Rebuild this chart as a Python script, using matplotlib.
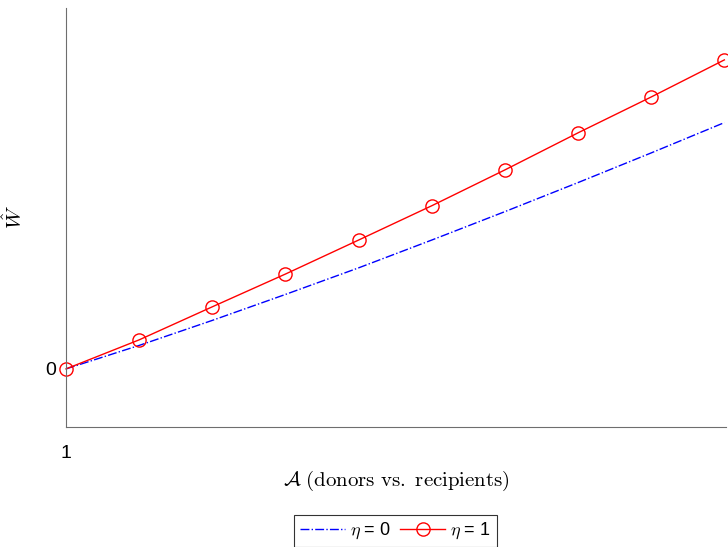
import matplotlib
matplotlib.use("Agg")
import matplotlib.pyplot as plt

# values (y in units of the final eta=1 value)
x = [1, 2, 3, 4, 5, 6, 7, 8, 9, 10]
w_eta1 = [0.0, 0.094, 0.201, 0.307, 0.417, 0.528, 0.644, 0.764, 0.880, 1.0]
w_eta0 = [0.0, 0.076, 0.157, 0.241, 0.327, 0.417, 0.509, 0.603, 0.699, 0.797]
x_ticks, x_ticklabels = [1], ["1"]
y_ticks, y_ticklabels = [0], ["0"]

plt.rcParams["font.family"] = ["Liberation Sans", "DejaVu Sans"]
plt.rcParams["mathtext.fontset"] = "cm"
AXIS = "#6e6e6e"

fig = plt.figure(figsize=(7.28, 5.47), dpi=100)
ax = fig.add_axes([0.0907, 0.2194, 0.9063, 0.766])

ax.plot(x, w_eta0, color="blue", ls="-.", lw=1.0, label=r"$\eta$ = 0")
ax.plot(x, w_eta1, color="red", ls="-", lw=1.0, marker="o", ms=9.5,
        mfc="none", mew=1.0, clip_on=False, label=r"$\eta$ = 1")

ax.set_xlim(1, 10.02)
ax.set_ylim(-0.188, 1.168)
ax.set_xticks(x_ticks, x_ticklabels)
ax.set_yticks(y_ticks, y_ticklabels)
ax.tick_params(length=0, labelsize=14)
ax.tick_params(axis="x", pad=13)
ax.tick_params(axis="y", pad=7)
for s in ["top", "right"]:
    ax.spines[s].set_visible(False)
for s in ["left", "bottom"]:
    ax.spines[s].set_color(AXIS)

ax.set_xlabel(r"$\mathcal{A}\ \mathrm{(donors\ vs.\ recipients)}$", fontsize=15)
ax.xaxis.set_label_coords(0.5, -0.101)
ax.set_ylabel(r"$\hat{W}$", fontsize=15)
ax.yaxis.set_label_coords(-0.061, 0.5)

leg = fig.legend(loc="center", bbox_to_anchor=(0.543, 0.0295), ncol=2, fontsize=13,
                 frameon=True, fancybox=False, edgecolor="black", handlelength=2.5,
                 columnspacing=0.5, handletextpad=0.3, borderpad=0.3, borderaxespad=0)
leg.get_frame().set_linewidth(0.8)

fig.savefig("out.png", dpi=100)
